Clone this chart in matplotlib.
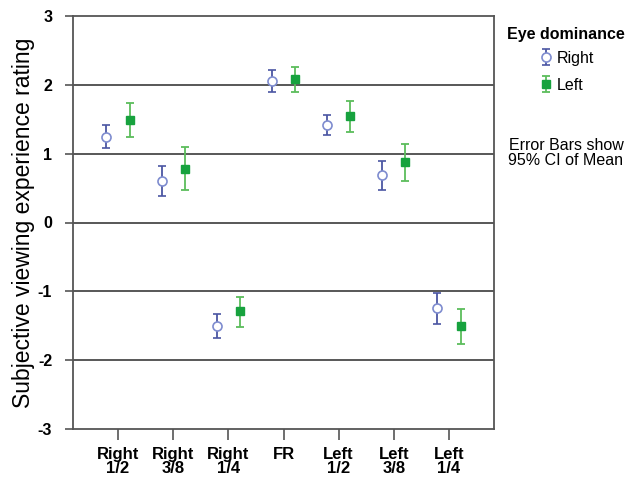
import matplotlib
matplotlib.use("Agg")
import matplotlib.pyplot as plt
import numpy as np

plt.rcParams['font.family'] = ['Liberation Sans', 'DejaVu Sans']

# ── Dados ────────────────────────────────────────────────────────────────────
categorias = ["Right\n1/2", "Right\n3/8", "Right\n1/4", "FR",
              "Left\n1/2", "Left\n3/8", "Left\n1/4"]

right_media = [1.24, 0.60, -1.51, 2.05, 1.41, 0.69, -1.24]
right_low   = [1.08, 0.39, -1.68, 1.89, 1.27, 0.47, -1.47]
right_high  = [1.41, 0.82, -1.33, 2.21, 1.56, 0.89, -1.03]

left_media  = [1.49, 0.78, -1.29, 2.08, 1.54, 0.88, -1.50]
left_low    = [1.24, 0.47, -1.52, 1.89, 1.32, 0.61, -1.77]
left_high   = [1.73, 1.10, -1.08, 2.26, 1.76, 1.14, -1.25]

yticks = [3, 2, 1, 0, -1, -2, -3]

# ── Gráfico ─────────────────────────────────────────────────────────────────
fig = plt.figure(figsize=(6.27, 4.78), dpi=100)
ax = fig.add_axes([73/627, 1 - 429/478, (494 - 73)/627, (429 - 16)/478])

x = np.arange(1, len(categorias) + 1)
off = 0.21

def erro(m, lo, hi):
    m, lo, hi = np.array(m), np.array(lo), np.array(hi)
    return np.vstack([m - lo, hi - m])

azul_barra, azul_marc = '#4b56a3', '#7e8ccf'
verde_barra, verde_marc = '#5cbd5c', '#17a23e'

h_r = ax.errorbar(x - off, right_media, yerr=erro(right_media, right_low, right_high),
                  fmt='o', ms=6.5, mfc='white', mec=azul_marc, mew=1.2,
                  ecolor=azul_barra, elinewidth=1.3, capsize=3, capthick=1.3,
                  label='Right', zorder=4)
h_l = ax.errorbar(x + off, left_media, yerr=erro(left_media, left_low, left_high),
                  fmt='s', ms=6, mfc=verde_marc, mec=verde_marc,
                  ecolor=verde_barra, elinewidth=1.3, capsize=3, capthick=1.3,
                  label='Left', zorder=4)

for y in yticks[1:-1]:
    ax.axhline(y, color='#4a4a4a', lw=1.3, zorder=1)

ax.set_xlim(0.185, 7.815)
ax.set_ylim(-3, 3)
ax.set_xticks(x)
ax.set_xticklabels(categorias, fontsize=12, fontweight='bold', linespacing=0.9)
ax.set_yticks(yticks)
ax.set_yticklabels([str(v) for v in yticks], fontsize=11.5, fontweight='bold')
ax.tick_params(axis='x', length=8, width=1.2, color='#555555', pad=5)
ax.tick_params(axis='y', length=6, width=1.2, color='#555555', pad=9)
for s in ax.spines.values():
    s.set_color('#555555')
    s.set_linewidth(1.3)

ax.set_ylabel("Subjective viewing experience rating", fontsize=16.5, labelpad=2)

fig.text(566/627, 1 - 35/478, "Eye dominance", ha='center', va='center',
         fontsize=11.5, fontweight='bold')
fig.legend(handles=[h_r, h_l], loc='upper left',
           bbox_to_anchor=(530/627, 1 - 43/478), frameon=False,
           fontsize=11.5, handlelength=1.0, handletextpad=0.15,
           labelspacing=0.75, borderpad=0)
fig.text(566/627, 1 - 153/478, "Error Bars show\n95% CI of Mean",
         ha='center', va='center', fontsize=11.5, linespacing=0.95)

fig.savefig('out.png', dpi=100)
